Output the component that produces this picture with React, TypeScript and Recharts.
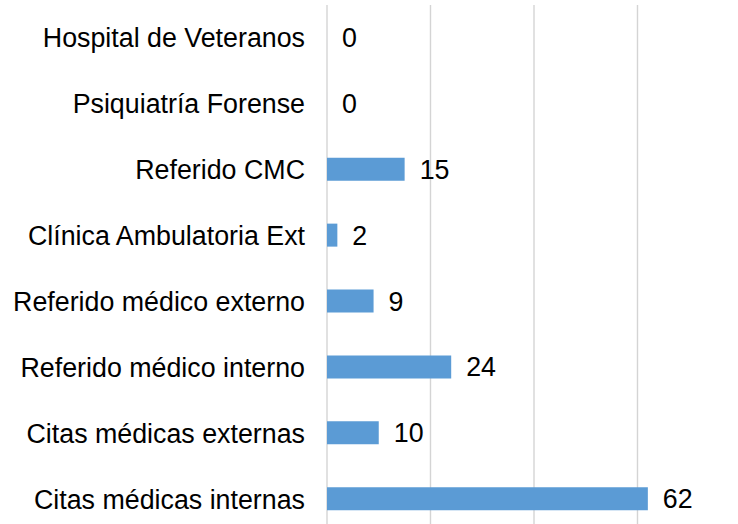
import { BarChart, Bar, XAxis, YAxis, CartesianGrid, LabelList } from "recharts";

const categories = [
  "Hospital de Veteranos",
  "Psiquiatría Forense",
  "Referido CMC",
  "Clínica Ambulatoria Ext",
  "Referido médico externo",
  "Referido médico interno",
  "Citas médicas externas",
  "Citas médicas internas",
];
const values = [0, 0, 15, 2, 9, 24, 10, 62];
const xTicks = [0, 20, 40, 60, 80];

const data = categories.map((name, i) => ({ name, value: values[i] }));

const font = "'Liberation Sans', Arial, sans-serif";

export default function App() {
  return (
    <div
      style={{
        position: "fixed",
        left: 0,
        top: 0,
        width: 738,
        height: 524,
        overflow: "hidden",
        background: "#fff",
      }}
    >
      <BarChart
        layout="vertical"
        width={741}
        height={540}
        data={data}
        margin={{ top: 5, right: 0, bottom: 8, left: 0 }}
      >
        <CartesianGrid horizontal={false} stroke="#d4d4d4" strokeWidth={1.4} />
        <XAxis type="number" domain={[0, 80]} ticks={xTicks} hide />
        <YAxis
          type="category"
          dataKey="name"
          width={327}
          axisLine={false}
          tickLine={false}
          tickSize={0}
          tickMargin={22}
          tick={{ fontSize: 26.8, fill: "#000", fontFamily: font }}
        />
        <Bar
          dataKey="value"
          fill="#5b9bd5"
          barSize={23}
          minPointSize={0.01}
          isAnimationActive={false}
        >
          <LabelList
            dataKey="value"
            position="right"
            offset={15}
            style={{ fontSize: 26.8, fill: "#000", fontFamily: font }}
          />
        </Bar>
      </BarChart>
    </div>
  );
}
